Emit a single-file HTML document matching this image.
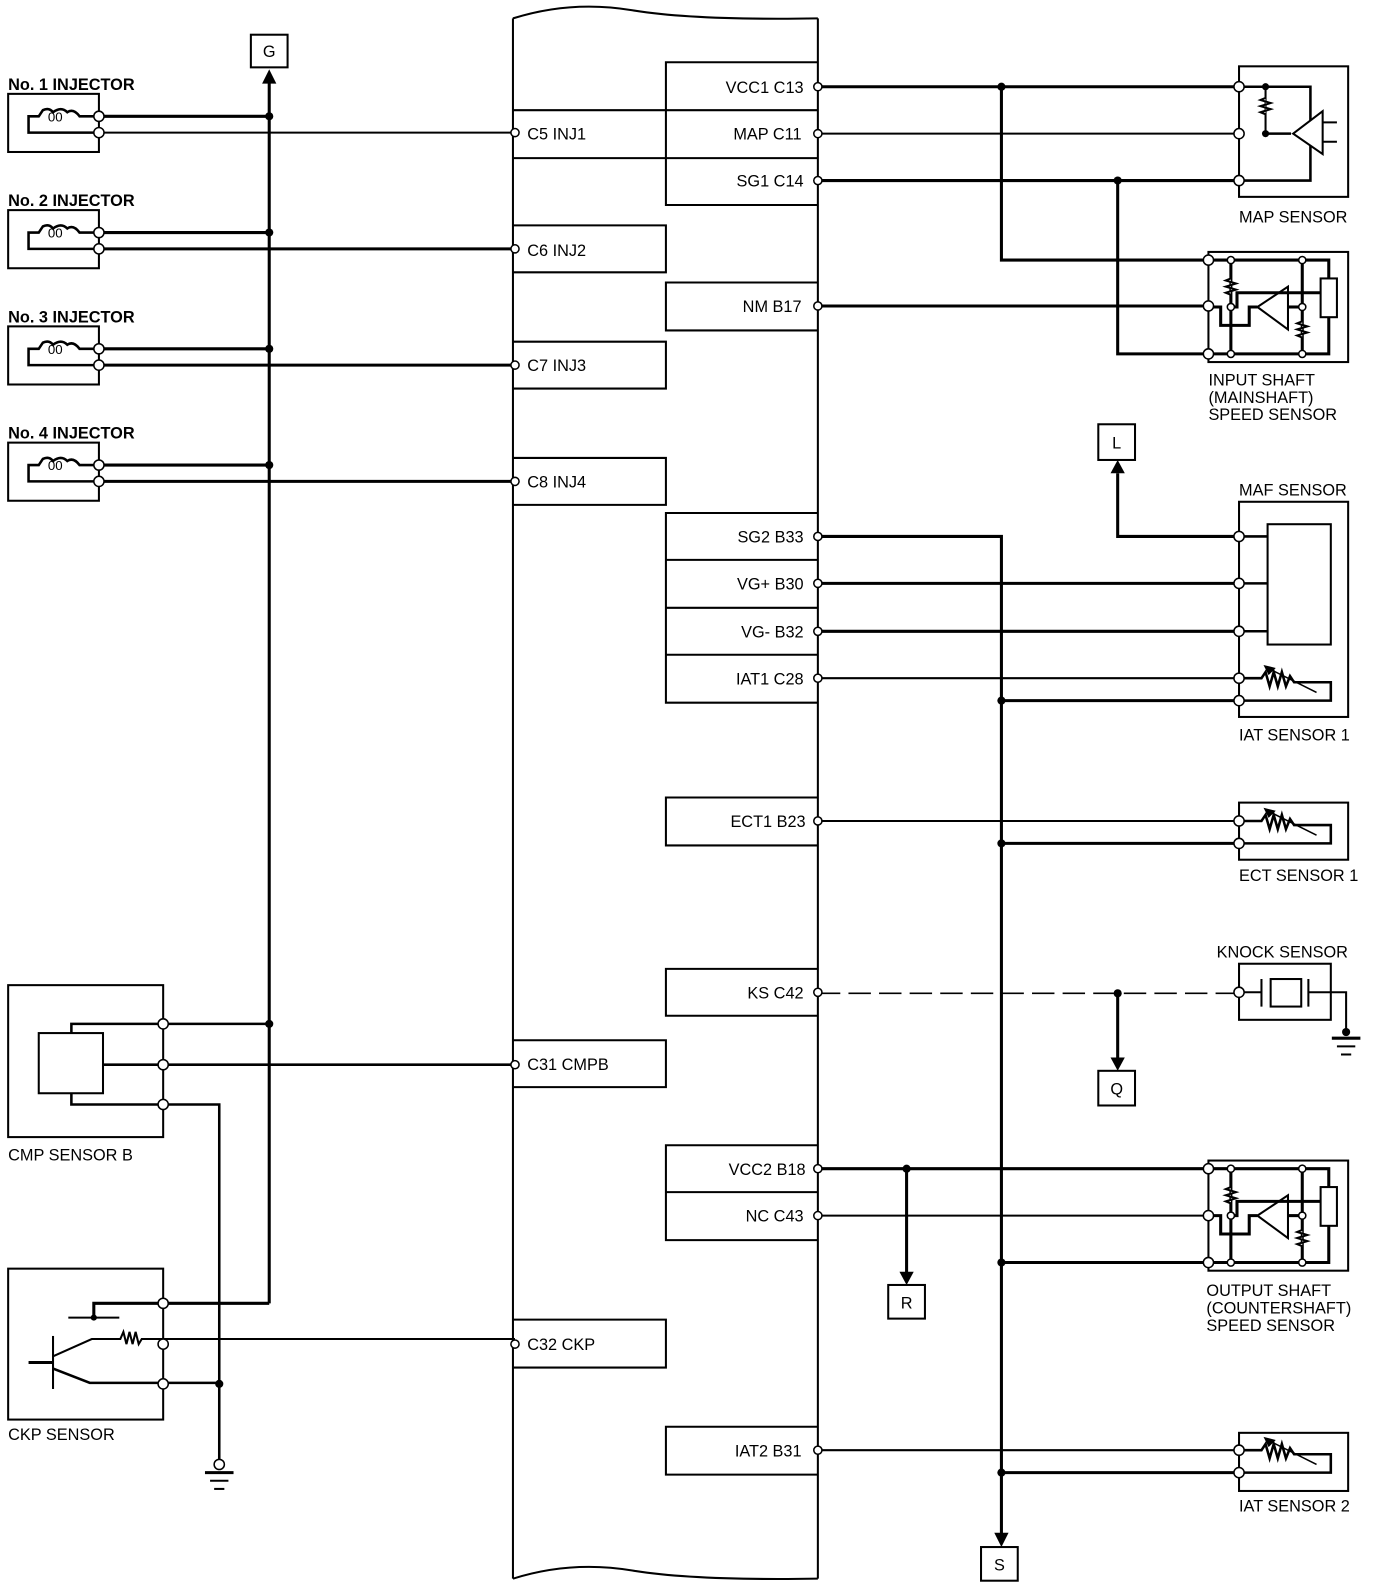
<!DOCTYPE html>
<html><head><meta charset="utf-8"><style>
html,body{margin:0;padding:0;background:#fff;}
svg{display:block;}
text{font-family:"Liberation Sans",sans-serif;font-size:16px;fill:#000;}
</style></head><body>
<svg width="1392" height="1594" viewBox="0 0 1365 1563" xmlns="http://www.w3.org/2000/svg">
<defs>
<g id="inj">
<rect x="0" y="0" width="89" height="57" fill="none" stroke="#000" stroke-width="2"/>
<path d="M89,22 H70 Q64,14 58,18 Q52,12 44,18 Q40,13 34,16 L30,22 H20 V38 H89" fill="none" stroke="#000" stroke-width="2.5"/>
<text x="39" y="27" style="font-size:13px">00</text>
</g>
<g id="therm">
<path d="M0,0 H22 L26,-6 L30,8 L34,-6 L38,8 L42,-6 L46,8 L50,-2 L54,4 H90 V22 H0" fill="none" stroke="#000" stroke-width="2.5"/>
<line x1="28" y1="-10" x2="76" y2="14" stroke="#000" stroke-width="1.5"/>
<path d="M24,-13 L36,-10 L29,-3 Z" fill="#000"/>
</g>
<g id="spd">
<rect x="0" y="-8" width="137" height="108" fill="none" stroke="#000" stroke-width="2"/>
<path d="M0,0 H118 V92 H0" fill="none" stroke="#000" stroke-width="3"/>
<line x1="22" y1="0" x2="22" y2="92" stroke="#000" stroke-width="3"/>
<line x1="92" y1="0" x2="92" y2="92" stroke="#000" stroke-width="3"/>
<path d="M22,18 l-5,2 l10,3 l-10,3 l10,3 l-10,3 l5,2" fill="#fff" stroke="#000" stroke-width="2"/>
<path d="M92,60 l-5,2 l10,3 l-10,3 l10,3 l-10,3 l5,2" fill="#fff" stroke="#000" stroke-width="2"/>
<path d="M0,46 H12 V64 H40 V46 H48" fill="none" stroke="#000" stroke-width="3"/>
<path d="M48,46 L78,26 V68 Z" fill="#fff" stroke="#000" stroke-width="2"/>
<path d="M78,46 H92" stroke="#000" stroke-width="3"/>
<path d="M22,46 H28 V32 H110" fill="none" stroke="#000" stroke-width="3"/>
<rect x="110" y="18" width="16" height="38" fill="#fff" stroke="#000" stroke-width="2"/>
<circle cx="22" cy="0" r="3.5" fill="#fff" stroke="#000" stroke-width="1.5"/>
<circle cx="22" cy="46" r="3.5" fill="#fff" stroke="#000" stroke-width="1.5"/>
<circle cx="22" cy="92" r="3.5" fill="#fff" stroke="#000" stroke-width="1.5"/>
<circle cx="92" cy="0" r="3.5" fill="#fff" stroke="#000" stroke-width="1.5"/>
<circle cx="92" cy="46" r="3.5" fill="#fff" stroke="#000" stroke-width="1.5"/>
<circle cx="92" cy="92" r="3.5" fill="#fff" stroke="#000" stroke-width="1.5"/>
</g>
<g id="gnd">
<line x1="-14" y1="0" x2="14" y2="0" stroke="#000" stroke-width="3"/>
<line x1="-9" y1="8" x2="9" y2="8" stroke="#000" stroke-width="2"/>
<line x1="-5" y1="16" x2="5" y2="16" stroke="#000" stroke-width="2"/>
</g>
</defs>

<path d="M503,18 Q560,0 620,10 T802,18" fill="none" stroke="#000" stroke-width="2"/>
<path d="M503,1548 Q560,1530 620,1540 T802,1548" fill="none" stroke="#000" stroke-width="2"/>
<line x1="503" y1="18" x2="503" y2="1548" stroke="#000" stroke-width="2"/>
<line x1="802" y1="18" x2="802" y2="1548" stroke="#000" stroke-width="2"/>
<g fill="none" stroke="#000" stroke-width="2">
<path d="M802,61 H653 V201 H802"/>
<path d="M503,108 H802 M503,155 H802"/>
<path d="M802,277 H653 V324 H802"/>
<path d="M802,503 H653 V689 H802 M653,549 H802 M653,596 H802 M653,642 H802"/>
<path d="M802,782 H653 V829 H802"/>
<path d="M802,950 H653 V996 H802"/>
<path d="M802,1123 H653 V1216 H802 M653,1169 H802"/>
<path d="M802,1399 H653 V1446 H802"/>
<path d="M503,221 H653 V267 H503"/>
<path d="M503,335 H653 V381 H503"/>
<path d="M503,449 H653 V495 H503"/>
<path d="M503,1020 H653 V1066 H503"/>
<path d="M503,1294 H653 V1341 H503"/>
</g>
<g text-anchor="end">
<text x="788" y="91">VCC1 C13</text>
<text x="786" y="137">MAP C11</text>
<text x="788" y="183">SG1 C14</text>
<text x="786" y="306">NM B17</text>
<text x="788" y="532">SG2 B33</text>
<text x="788" y="578">VG+ B30</text>
<text x="788" y="625">VG- B32</text>
<text x="788" y="671">IAT1 C28</text>
<text x="790" y="811">ECT1 B23</text>
<text x="788" y="979">KS C42</text>
<text x="790" y="1152">VCC2 B18</text>
<text x="788" y="1198">NC C43</text>
<text x="786" y="1428">IAT2 B31</text>
</g>
<text x="517" y="137">C5 INJ1</text>
<text x="517" y="251">C6 INJ2</text>
<text x="517" y="364">C7 INJ3</text>
<text x="517" y="478">C8 INJ4</text>
<text x="517" y="1049">C31 CMPB</text>
<text x="517" y="1324">C32 CKP</text>

<rect x="246" y="34" width="36" height="32" fill="none" stroke="#000" stroke-width="2"/>
<text x="264" y="56" text-anchor="middle">G</text>
<path d="M257,82 L264,68 L271,82 Z" fill="#000"/>
<line x1="264" y1="80" x2="264" y2="1278" stroke="#000" stroke-width="3"/>
<g font-weight="bold">
<text x="8" y="88">No. 1 INJECTOR</text>
<text x="8" y="202">No. 2 INJECTOR</text>
<text x="8" y="316">No. 3 INJECTOR</text>
<text x="8" y="430">No. 4 INJECTOR</text>
</g>
<use href="#inj" x="8" y="92"/>
<use href="#inj" x="8" y="206"/>
<use href="#inj" x="8" y="320"/>
<use href="#inj" x="8" y="434"/>
<g stroke="#000" stroke-width="3">
<line x1="97" y1="114" x2="264" y2="114"/><line x1="97" y1="130" x2="505" y2="130" stroke-width="2"/>
<line x1="97" y1="228" x2="264" y2="228"/><line x1="97" y1="244" x2="505" y2="244"/>
<line x1="97" y1="342" x2="264" y2="342"/><line x1="97" y1="358" x2="505" y2="358"/>
<line x1="97" y1="456" x2="264" y2="456"/><line x1="97" y1="472" x2="505" y2="472"/>
</g>
<rect x="8" y="966" width="152" height="149" fill="none" stroke="#000" stroke-width="2"/>
<rect x="38" y="1013" width="63" height="59" fill="none" stroke="#000" stroke-width="2"/>
<path d="M70,1013 V1004 H264 M101,1044 H505 M70,1072 V1083 H215 V1440" fill="none" stroke="#000" stroke-width="2.5"/>
<text x="8" y="1138">CMP SENSOR B</text>
<rect x="8" y="1244" width="152" height="148" fill="none" stroke="#000" stroke-width="2"/>
<path d="M92,1292 V1278 H264" fill="none" stroke="#000" stroke-width="3"/>
<line x1="67" y1="1292" x2="117" y2="1292" stroke="#000" stroke-width="2"/>
<circle cx="92" cy="1292" r="3" fill="#000"/>
<line x1="52" y1="1310" x2="52" y2="1362" stroke="#000" stroke-width="2"/>
<line x1="28" y1="1336" x2="52" y2="1336" stroke="#000" stroke-width="3"/>
<path d="M52,1330 L90,1313 H118 l3,-7 3,12 3,-12 3,12 3,-12 3,12 3,-5 H505" fill="none" stroke="#000" stroke-width="2"/>
<path d="M52,1342 L88,1356 H215" fill="none" stroke="#000" stroke-width="2.5"/>
<text x="8" y="1412">CKP SENSOR</text>
<use href="#gnd" x="215" y="1444"/>
<g fill="#000">
<circle cx="264" cy="114" r="4"/><circle cx="264" cy="228" r="4"/><circle cx="264" cy="342" r="4"/><circle cx="264" cy="456" r="4"/><circle cx="264" cy="1004" r="4"/><circle cx="215" cy="1357" r="4"/>
</g>
<g fill="#fff" stroke="#000" stroke-width="1.5">
<circle cx="97" cy="114" r="5"/><circle cx="97" cy="130" r="5"/>
<circle cx="97" cy="228" r="5"/><circle cx="97" cy="244" r="5"/>
<circle cx="97" cy="342" r="5"/><circle cx="97" cy="358" r="5"/>
<circle cx="97" cy="456" r="5"/><circle cx="97" cy="472" r="5"/>
<circle cx="160" cy="1004" r="5"/><circle cx="160" cy="1044" r="5"/><circle cx="160" cy="1083" r="5"/>
<circle cx="160" cy="1278" r="5"/><circle cx="160" cy="1318" r="5"/><circle cx="160" cy="1357" r="5"/>
<circle cx="215" cy="1436" r="5"/>
</g>

<g fill="none" stroke="#000" stroke-width="3">
<path d="M802,85 H1215 M982,85 V255 H1185"/>
<path d="M802,131 H1215" stroke-width="2"/>
<path d="M802,177 H1215 M1096,177 V347 H1185"/>
<path d="M802,300 H1185"/>
<path d="M802,526 H982 V1505"/>
<path d="M1096,464 V526 H1215"/>
<path d="M802,572 H1215 M802,619 H1215"/>
<path d="M802,665 H1215" stroke-width="2"/>
<path d="M982,687 H1215"/>
<path d="M802,805 H1215" stroke-width="2"/>
<path d="M982,827 H1215"/>
<path d="M1096,973 V1040"/>
<path d="M802,1146 H1185 M889,1146 V1250"/>
<path d="M802,1192 H1185" stroke-width="2"/>
<path d="M982,1238 H1185"/>
<path d="M802,1422 H1215" stroke-width="2"/>
<path d="M982,1444 H1215"/>
</g>
<line x1="802" y1="974" x2="1215" y2="974" stroke="#000" stroke-width="1.5" stroke-dasharray="22,8"/>
<path d="M1089,464 L1096,451 L1103,464 Z" fill="#000"/>
<rect x="1077" y="416" width="36" height="35" fill="none" stroke="#000" stroke-width="2"/><text x="1095" y="440" text-anchor="middle">L</text>
<path d="M1089,1037 L1096,1050 L1103,1037 Z" fill="#000"/>
<rect x="1077" y="1050" width="36" height="34" fill="none" stroke="#000" stroke-width="2"/><text x="1095" y="1073" text-anchor="middle">Q</text>
<path d="M882,1247 L889,1260 L896,1247 Z" fill="#000"/>
<rect x="871" y="1260" width="36" height="33" fill="none" stroke="#000" stroke-width="2"/><text x="889" y="1283" text-anchor="middle">R</text>
<path d="M975,1503 L982,1517 L989,1503 Z" fill="#000"/>
<rect x="962" y="1517" width="36" height="33" fill="none" stroke="#000" stroke-width="2"/><text x="980" y="1540" text-anchor="middle">S</text>

<rect x="1215" y="65" width="107" height="128" fill="none" stroke="#000" stroke-width="2"/>
<path d="M1215,85 H1285 V177 H1215" fill="none" stroke="#000" stroke-width="2.5"/>
<path d="M1241,131 H1266" stroke="#000" stroke-width="2.5"/>
<line x1="1241" y1="85" x2="1241" y2="131" stroke="#000" stroke-width="2"/>
<path d="M1241,96 l-5,2 l10,3 l-10,3 l10,3 l-10,3 l5,2" fill="#fff" stroke="#000" stroke-width="2"/>
<path d="M1268,131 L1297,109 V151 Z" fill="#fff" stroke="#000" stroke-width="2"/>
<path d="M1297,120 H1311 M1297,139 H1311" stroke="#000" stroke-width="2"/>
<circle cx="1241" cy="85" r="3.5" fill="#000"/><circle cx="1241" cy="131" r="3.5" fill="#000"/>
<text x="1215" y="218">MAP SENSOR</text>
<use href="#spd" x="1185" y="255"/>
<text x="1185" y="378">INPUT SHAFT</text>
<text x="1185" y="395">(MAINSHAFT)</text>
<text x="1185" y="412">SPEED SENSOR</text>
<rect x="1215" y="492" width="107" height="211" fill="none" stroke="#000" stroke-width="2"/>
<rect x="1243" y="514" width="62" height="118" fill="none" stroke="#000" stroke-width="2"/>
<path d="M1215,526 H1243 M1215,572 H1243 M1215,619 H1243" stroke="#000" stroke-width="2.5"/>
<use href="#therm" x="1215" y="665"/>
<text x="1215" y="486">MAF SENSOR</text>
<text x="1215" y="726">IAT SENSOR 1</text>
<rect x="1215" y="787" width="107" height="56" fill="none" stroke="#000" stroke-width="2"/>
<use href="#therm" x="1215" y="805"/>
<text x="1215" y="864">ECT SENSOR 1</text>
<rect x="1215" y="945" width="90" height="55" fill="none" stroke="#000" stroke-width="2"/>
<path d="M1215,973 H1237 M1237,960 V987 M1283,960 V987 M1283,973 H1320 V1015" fill="none" stroke="#000" stroke-width="2"/>
<rect x="1246" y="960" width="30" height="27" fill="none" stroke="#000" stroke-width="2"/>
<circle cx="1320" cy="1012" r="4" fill="#000"/>
<use href="#gnd" x="1320" y="1018"/>
<text x="1193" y="939">KNOCK SENSOR</text>
<use href="#spd" x="1185" y="1146"/>
<text x="1183" y="1271">OUTPUT SHAFT</text>
<text x="1183" y="1288">(COUNTERSHAFT)</text>
<text x="1183" y="1305">SPEED SENSOR</text>
<rect x="1215" y="1405" width="107" height="57" fill="none" stroke="#000" stroke-width="2"/>
<use href="#therm" x="1215" y="1422"/>
<text x="1215" y="1482">IAT SENSOR 2</text>

<g fill="#000">
<circle cx="982" cy="85" r="4"/><circle cx="1096" cy="177" r="4"/>
<circle cx="982" cy="687" r="4"/><circle cx="982" cy="827" r="4"/><circle cx="1096" cy="974" r="4"/>
<circle cx="889" cy="1146" r="4"/><circle cx="982" cy="1238" r="4"/><circle cx="982" cy="1444" r="4"/>
</g>
<g fill="#fff" stroke="#000" stroke-width="1.5">
<circle cx="505" cy="130" r="4"/><circle cx="505" cy="244" r="4"/><circle cx="505" cy="358" r="4"/><circle cx="505" cy="472" r="4"/><circle cx="505" cy="1044" r="4"/><circle cx="505" cy="1318" r="4"/>
<circle cx="802" cy="85" r="4"/><circle cx="802" cy="131" r="4"/><circle cx="802" cy="177" r="4"/><circle cx="802" cy="300" r="4"/>
<circle cx="802" cy="526" r="4"/><circle cx="802" cy="572" r="4"/><circle cx="802" cy="619" r="4"/><circle cx="802" cy="665" r="4"/>
<circle cx="802" cy="805" r="4"/><circle cx="802" cy="973" r="4"/><circle cx="802" cy="1146" r="4"/><circle cx="802" cy="1192" r="4"/><circle cx="802" cy="1422" r="4"/>
<circle cx="1215" cy="85" r="5"/><circle cx="1215" cy="131" r="5"/><circle cx="1215" cy="177" r="5"/>
<circle cx="1185" cy="255" r="5"/><circle cx="1185" cy="300" r="5"/><circle cx="1185" cy="347" r="5"/>
<circle cx="1215" cy="526" r="5"/><circle cx="1215" cy="572" r="5"/><circle cx="1215" cy="619" r="5"/><circle cx="1215" cy="665" r="5"/><circle cx="1215" cy="687" r="5"/>
<circle cx="1215" cy="805" r="5"/><circle cx="1215" cy="827" r="5"/><circle cx="1215" cy="973" r="5"/>
<circle cx="1185" cy="1146" r="5"/><circle cx="1185" cy="1192" r="5"/><circle cx="1185" cy="1238" r="5"/>
<circle cx="1215" cy="1422" r="5"/><circle cx="1215" cy="1444" r="5"/>
</g>
</svg>
</body></html>
